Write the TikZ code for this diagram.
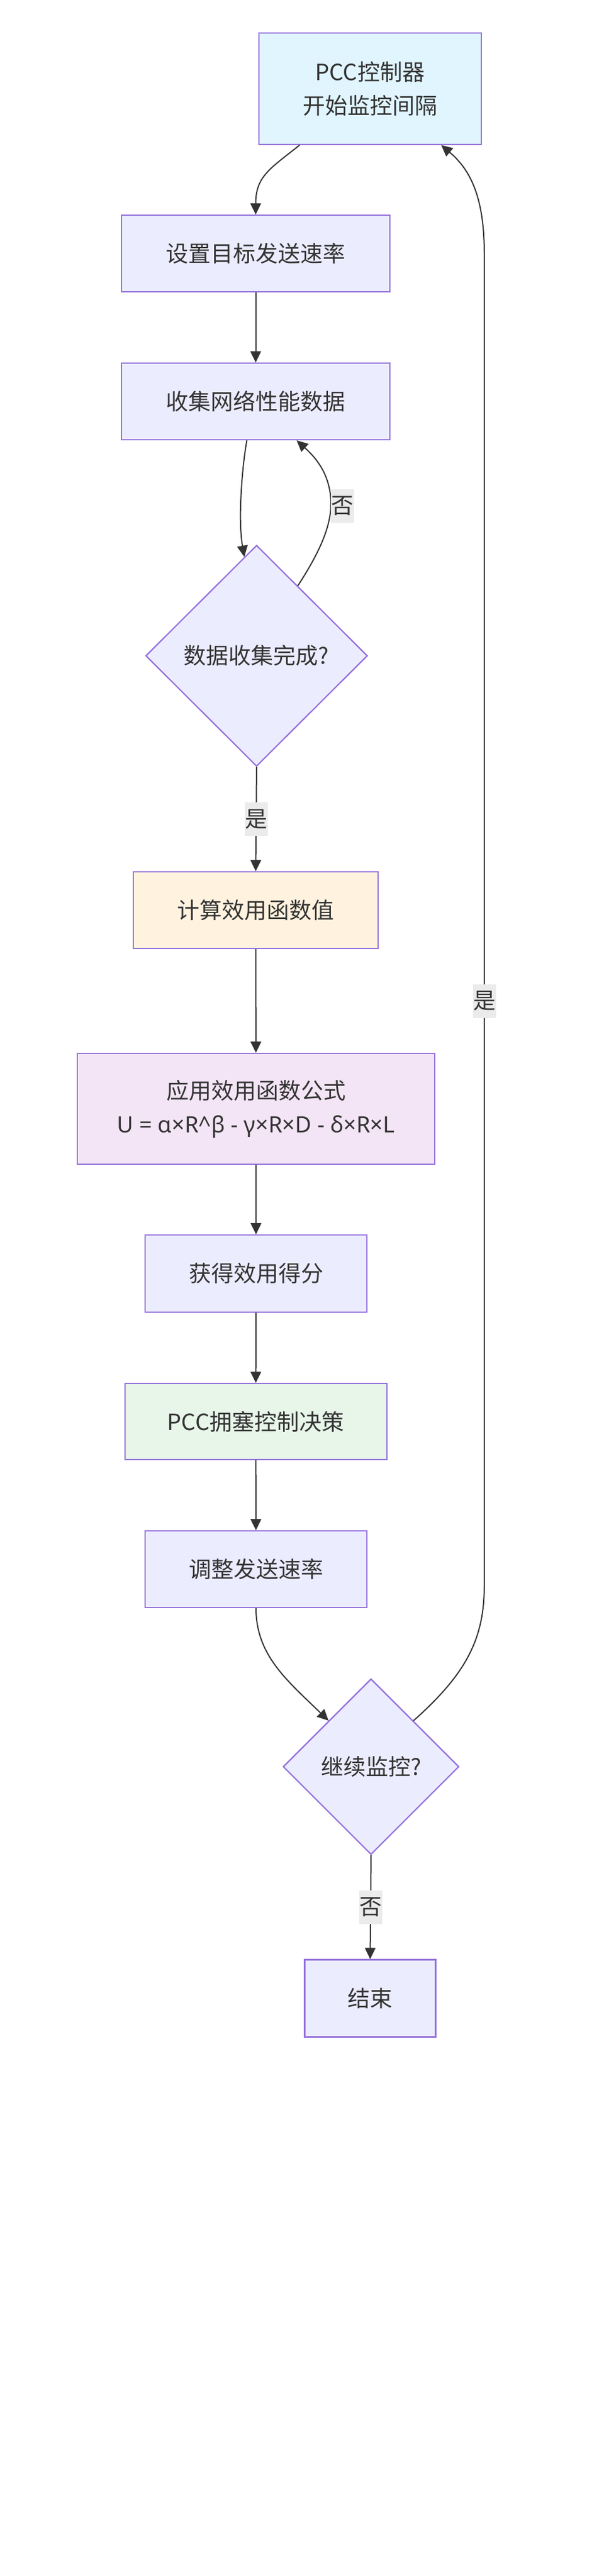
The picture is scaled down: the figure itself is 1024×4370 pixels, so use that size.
\documentclass[tikz,border=0pt]{standalone}
\usepackage{fontspec}
\setmainfont{Noto Sans CJK SC}
\newfontfamily\latinf{Noto Sans}
\usetikzlibrary{shapes.geometric,arrows.meta,calc}
\definecolor{txt}{HTML}{333333}
\definecolor{bord}{HTML}{9370DB}
\definecolor{defill}{HTML}{ECECFF}
\definecolor{startfill}{HTML}{E1F5FE}
\definecolor{calcfill}{HTML}{FFF3E0}
\definecolor{formfill}{HTML}{F3E5F5}
\definecolor{decfill}{HTML}{E8F5E9}
\definecolor{lblfill}{HTML}{EBEBEB}
\definecolor{edgecol}{HTML}{333333}
\begin{document}
\begin{tikzpicture}[x=1pt,y=-1pt,
  font=\fontsize{38}{57}\selectfont,
  box/.style={draw=bord, line width=2.2pt, fill=defill, text=txt, inner sep=0pt, align=center},
  dia/.style={box, diamond, aspect=1},
  arr/.style={draw=edgecol, line width=2pt, -{Triangle[length=19pt,width=18pt]}},
  lbl/.style={fill=lblfill, text=txt, inner sep=0pt, minimum width=39pt, minimum height=57pt}
]
\fill[white] (0,0) rectangle (1024,4370);
\useasboundingbox (0,0) rectangle (1024,4370);

% nodes
\node[box, fill=startfill, minimum width=377pt, minimum height=189pt] (start) at (627.5,150.5) {PCC控制器\\开始监控间隔};
\node[box, minimum width=455pt, minimum height=130pt] (n2) at (433.5,430) {设置目标发送速率};
\node[box, minimum width=455pt, minimum height=130pt] (n3) at (433.5,681) {收集网络性能数据};
\node[dia, minimum width=376pt, minimum height=375pt] (d1) at (435,1112.5) {数据收集完成?};
\node[box, fill=calcfill, minimum width=415pt, minimum height=130pt] (n4) at (433.5,1544) {计算效用函数值};
\node[box, fill=formfill, minimum width=606pt, minimum height=188pt] (n5) at (434,1881) {应用效用函数公式\\{\latinf U = α×R\^{}β - γ×R×D - δ×R×L}};
\node[box, minimum width=376.5pt, minimum height=131pt] (n6) at (434,2160.5) {获得效用得分};
\node[box, fill=decfill, minimum width=444pt, minimum height=129pt] (n7) at (433.6,2411.5) {PCC拥塞控制决策};
\node[box, minimum width=376.5pt, minimum height=130pt] (n8) at (434,2662) {调整发送速率};
\node[dia, minimum width=298pt, minimum height=298pt] (d2) at (629,2997) {继续监控?};
\node[box, minimum width=222pt, minimum height=131pt] (end) at (627.5,3390) {结束};

% helper coordinates
\coordinate (m1) at (561,855);
\coordinate (c1) at (821,2690);
\coordinate (c2) at (821,430);

% edges
\draw[arr] ($(start.south)+(-119.5,0)$) .. controls +(-50,40) and +(0,-65) .. (n2.north);
\draw[arr] (n2) -- (n3);
\draw[arr] ($(n3.south)+(-15,0)$) .. controls +(-8,44) and +(-11,-64) .. ($(d1.north)!0.11!(d1.west)$);
\draw[arr] ($(d1.north)!0.37!(d1.east)$) .. controls +(35,-54) and +(0,40) .. (m1)
   .. controls +(0,-50) and +(32,29) .. ($(n3.south)+(69.5,0)$);
\node[lbl] (l1) at (580,858) {否};
\draw[arr] (d1.south) -- (n4.north) node[lbl, pos=0.5] (l2) {是};
\draw[arr] (n4) -- (n5);
\draw[arr] (n5) -- (n6);
\draw[arr] (n6) -- (n7);
\draw[arr] (n7) -- (n8);
\draw[arr] (n8.south) .. controls +(0,80) and +(-70,-68) .. ($(d2.north)!0.48!(d2.west)$);
\draw[arr] ($(d2.north)!0.48!(d2.east)$) .. controls +(89.5,-79.5) and +(0,90) .. (c1)
   -- (c2) .. controls +(0,-100) and +(47,40) .. ($(start.south)+(120.5,0)$);
\node[lbl] (l3) at (821,1698) {是};
\draw[arr] (d2.south) -- (end.north) node[lbl, pos=0.5] (l4) {否};
\end{tikzpicture}
\end{document}
